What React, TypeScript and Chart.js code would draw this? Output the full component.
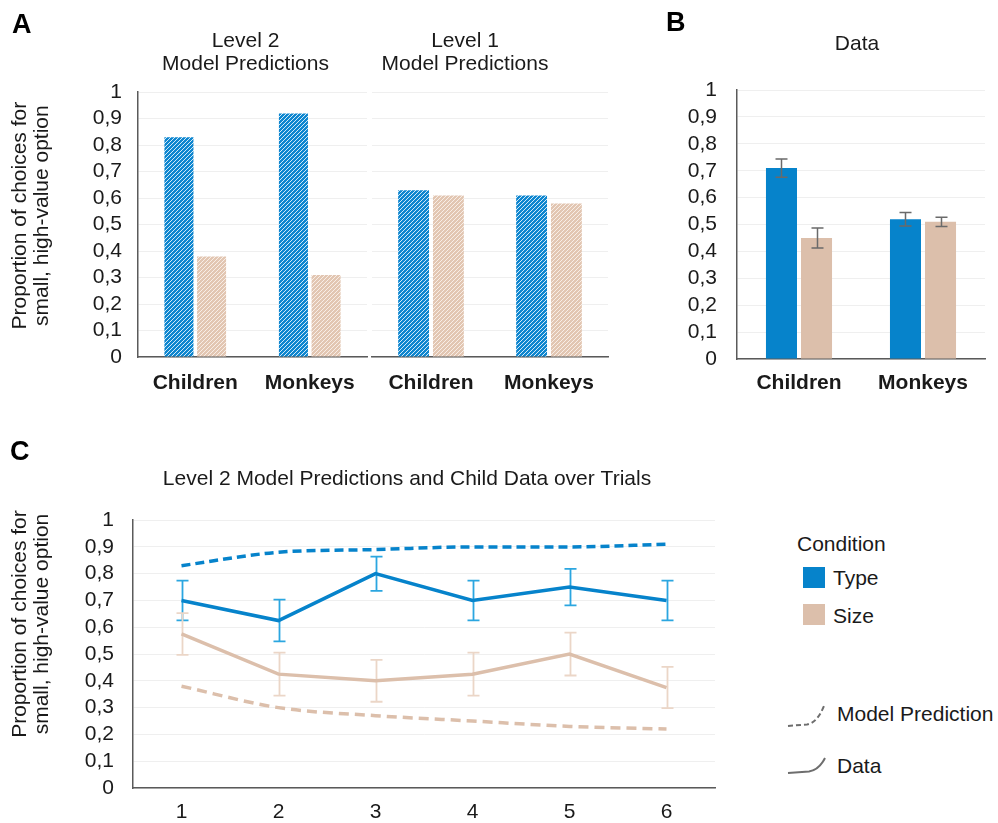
import React, { useEffect, useRef } from 'react';
import { Chart, registerables } from 'chart.js';

Chart.register(...registerables);

const FONT = "'Liberation Sans', Arial, Helvetica, sans-serif";
const TEXT = '#1a1a1a';
const AXIS = '#5a5a5a';
const GRID = '#efefef';
const BLUE = '#0683cb';
const TAN = '#dcbfab';
const BLUE_ERR = '#2ba6e0';
const TAN_ERR = '#ebd6c7';
const GRAY_ERR = '#6a6a6a';

// ---------- data ----------
const groups = ['Children', 'Monkeys'];
const yTickLabels = ['0', '0,1', '0,2', '0,3', '0,4', '0,5', '0,6', '0,7', '0,8', '0,9', '1'];
const conditionLabels = ['Type', 'Size'];
const lineStyleLabels = ['Model Prediction', 'Data'];

const level2Type = [0.83, 0.92];
const level2Size = [0.38, 0.31];
const level1Type = [0.63, 0.61];
const level1Size = [0.61, 0.58];

const dataType = [0.71, 0.52];
const dataSize = [0.45, 0.51];
const dataTypeErr = [0.034, 0.025];
const dataSizeErr = [0.037, 0.017];

const trials = ['1', '2', '3', '4', '5', '6'];
const trialTypeData = [0.70, 0.625, 0.80, 0.70, 0.75, 0.70];
const trialTypeErr = [0.074, 0.078, 0.064, 0.074, 0.068, 0.074];
const trialSizeData = [0.575, 0.425, 0.40, 0.425, 0.50, 0.375];
const trialSizeErr = [0.078, 0.08, 0.078, 0.08, 0.08, 0.077];
const trialTypeModel = [0.83, 0.88, 0.89, 0.90, 0.90, 0.91];
const trialSizeModel = [0.38, 0.30, 0.27, 0.25, 0.23, 0.22];

const titleLevel2 = ['Level 2', 'Model Predictions'];
const titleLevel1 = ['Level 1', 'Model Predictions'];
const titleData = 'Data';
const titleTrials = 'Level 2 Model Predictions and Child Data over Trials';
const yTitle = ['Proportion of choices for', 'small, high-value option'];

// ---------- helpers ----------
function drawErrors(chart: any, layer: string) {
  const ctx = chart.ctx;
  chart.data.datasets.forEach((ds: any, i: number) => {
    if (!ds.errors || (ds.errorLayer || 'over') !== layer) return;
    const meta = chart.getDatasetMeta(i);
    const ys = chart.scales[meta.yAxisID];
    ctx.save();
    ctx.strokeStyle = ds.errorColor;
    ctx.lineWidth = ds.errorWidth || 1.5;
    const cap = ds.errorCap || 6;
    meta.data.forEach((el: any, j: number) => {
      const v = ds.data[j];
      const e = ds.errors[j];
      const x = Math.round(el.x) + 0.5;
      const yt = ys.getPixelForValue(v + e);
      const yb = ys.getPixelForValue(v - e);
      ctx.beginPath();
      ctx.moveTo(x, yt);
      ctx.lineTo(x, yb);
      ctx.moveTo(x - cap, yt);
      ctx.lineTo(x + cap, yt);
      ctx.moveTo(x - cap, yb);
      ctx.lineTo(x + cap, yb);
      ctx.stroke();
    });
    ctx.restore();
  });
}

const errorBarsPlugin = {
  id: 'errorBars',
  beforeDatasetsDraw(chart: any) {
    drawErrors(chart, 'under');
  },
  afterDatasetsDraw(chart: any) {
    drawErrors(chart, 'over');
  },
};

// nudges the built-in chart title / y-axis title to match the reference placement
const textShiftPlugin = {
  id: 'textShift',
  afterLayout(chart: any, _args: any, opts: any) {
    const y = chart.scales.y;
    if (y && !y.__shifted && opts && opts.yTitleDy) {
      const orig = y.drawTitle.bind(y);
      y.drawTitle = () => {
        const c = chart.ctx;
        c.save();
        c.translate(0, opts.yTitleDy);
        orig();
        c.restore();
      };
      y.__shifted = true;
    }
    const t = chart.titleBlock;
    if (t && !t.__shifted && opts && opts.titleDx) {
      const orig2 = t.draw.bind(t);
      t.draw = (...a: any[]) => {
        const c = chart.ctx;
        c.save();
        c.translate(opts.titleDx, 0);
        orig2(...a);
        c.restore();
      };
      t.__shifted = true;
    }
  },
};

function hatch(base: string, stripe: string) {
  const c = document.createElement('canvas');
  c.width = 4;
  c.height = 4;
  const g = c.getContext('2d')!;
  g.fillStyle = base;
  g.fillRect(0, 0, 4, 4);
  g.fillStyle = stripe;
  for (let x = 0; x < 4; x++) {
    const y = (3 - x + 4) % 4;
    g.fillRect(x, y, 1, 1);
  }
  return g.createPattern(c, 'repeat') as CanvasPattern;
}

function yScaleOpts(width: number, showAxis: boolean, withTitle: boolean, tickPad: number) {
  return {
    min: 0,
    max: 1,
    ticks: {
      display: showAxis,
      stepSize: 0.1,
      autoSkip: false,
      padding: tickPad,
      color: TEXT,
      font: { family: FONT, size: 21 },
      callback: (v: number) => yTickLabels[Math.round(v * 10)],
    },
    grid: { color: GRID, lineWidth: 1, drawTicks: false },
    border: { display: showAxis, color: AXIS, width: 1.5 },
    title: {
      display: withTitle,
      text: yTitle,
      color: TEXT,
      font: { family: FONT, size: 21, lineHeight: 1.05 },
      padding: { top: 9, bottom: 0 },
    },
    afterFit: (s: any) => {
      s.width = width;
    },
  };
}

function xScaleOpts(height: number, bold: boolean, pad: number, offset = true) {
  return {
    offset,
    grid: { display: false, drawTicks: false },
    border: { display: true, color: AXIS, width: 1.5 },
    ticks: {
      color: TEXT,
      padding: pad,
      autoSkip: false,
      font: { family: FONT, size: 21, weight: bold ? 'bold' : 'normal' },
    },
    afterFit: (s: any) => {
      s.height = height;
    },
  };
}

function titleOpts(text: any, fullSize: boolean, top: number, bottom: number) {
  return {
    display: true,
    text,
    fullSize,
    color: TEXT,
    font: { family: FONT, size: 21, weight: 'normal', lineHeight: 1.1 },
    padding: { top, bottom },
  };
}

export default function App() {
  const aLeft = useRef<HTMLCanvasElement>(null);
  const aRight = useRef<HTMLCanvasElement>(null);
  const bRef = useRef<HTMLCanvasElement>(null);
  const cRef = useRef<HTMLCanvasElement>(null);

  useEffect(() => {
    const blueHatch = hatch('#0e86cf', '#cfe8f8');
    const tanHatch = hatch('#e2c6b2', '#f8eee7');
    const charts: Chart[] = [];

    const barSet = (label: string, data: number[], bg: any, extra: any = {}) => ({
      label,
      data,
      backgroundColor: bg,
      borderWidth: 0,
      categoryPercentage: 0.57,
      barPercentage: 0.89,
      ...extra,
    });

    charts.push(
      new Chart(aLeft.current!, {
        type: 'bar',
        data: {
          labels: groups,
          datasets: [
            barSet(conditionLabels[0], level2Type, blueHatch),
            barSet(conditionLabels[1], level2Size, tanHatch),
          ],
        },
        options: {
          responsive: false,
          animation: false,
          layout: { padding: { left: 0, right: 3, top: 0, bottom: 0 } },
          plugins: {
            legend: { display: false },
            tooltip: { enabled: false },
            title: titleOpts(titleLevel2, false, 10, 16),
            textShift: { yTitleDy: -9, titleDx: -7 },
          },
          scales: {
            x: xScaleOpts(43, true, 14),
            y: yScaleOpts(138, true, true, 16),
          },
        } as any,
        plugins: [textShiftPlugin],
      })
    );

    charts.push(
      new Chart(aRight.current!, {
        type: 'bar',
        data: {
          labels: groups,
          datasets: [
            barSet(conditionLabels[0], level1Type, blueHatch, { categoryPercentage: 0.59, barPercentage: 0.886 }),
            barSet(conditionLabels[1], level1Size, tanHatch, { categoryPercentage: 0.59, barPercentage: 0.886 }),
          ],
        },
        options: {
          responsive: false,
          animation: false,
          layout: { padding: { left: 0, right: 4, top: 0, bottom: 0 } },
          plugins: {
            legend: { display: false },
            tooltip: { enabled: false },
            title: titleOpts(titleLevel1, true, 10, 16),
          },
          scales: {
            x: xScaleOpts(43, true, 14),
            y: yScaleOpts(50, false, false, 16),
          },
        } as any,
      })
    );

    charts.push(
      new Chart(bRef.current!, {
        type: 'bar',
        data: {
          labels: groups,
          datasets: [
            barSet(conditionLabels[0], dataType, BLUE, {
              categoryPercentage: 0.565,
              barPercentage: 0.886,
              errors: dataTypeErr,
              errorColor: GRAY_ERR,
              errorWidth: 1.5,
              errorCap: 6,
            }),
            barSet(conditionLabels[1], dataSize, TAN, {
              categoryPercentage: 0.565,
              barPercentage: 0.886,
              errors: dataSizeErr,
              errorColor: GRAY_ERR,
              errorWidth: 1.5,
              errorCap: 6,
            }),
          ],
        },
        options: {
          responsive: false,
          animation: false,
          layout: { padding: { left: 0, right: 13, top: 0, bottom: 0 } },
          plugins: {
            legend: { display: false },
            tooltip: { enabled: false },
            title: titleOpts(titleData, false, 33, 34),
            textShift: { titleDx: -4 },
          },
          scales: {
            x: xScaleOpts(41, true, 12),
            y: yScaleOpts(97, true, false, 20),
          },
        } as any,
        plugins: [errorBarsPlugin, textShiftPlugin],
      })
    );

    charts.push(
      new Chart(cRef.current!, {
        type: 'line',
        data: {
          labels: trials,
          datasets: [
            {
              label: 'Type model',
              data: trialTypeModel,
              borderColor: BLUE,
              borderWidth: 3.5,
              borderDash: [9, 5],
              tension: 0.35,
              cubicInterpolationMode: 'monotone',
              pointRadius: 0,
              fill: false,
            },
            {
              label: 'Size model',
              data: trialSizeModel,
              borderColor: TAN,
              borderWidth: 3.5,
              borderDash: [10, 6],
              tension: 0.35,
              cubicInterpolationMode: 'monotone',
              pointRadius: 0,
              fill: false,
            },
            {
              label: 'Type data',
              data: trialTypeData,
              borderColor: BLUE,
              borderWidth: 3.5,
              tension: 0,
              pointRadius: 0,
              fill: false,
              errors: trialTypeErr,
              errorColor: BLUE_ERR,
              errorWidth: 1.8,
              errorCap: 6,
              errorLayer: 'under',
            },
            {
              label: 'Size data',
              data: trialSizeData,
              borderColor: TAN,
              borderWidth: 3.5,
              tension: 0,
              pointRadius: 0,
              fill: false,
              errors: trialSizeErr,
              errorColor: TAN_ERR,
              errorWidth: 1.8,
              errorCap: 6,
              errorLayer: 'under',
            },
          ],
        },
        options: {
          responsive: false,
          animation: false,
          layout: { padding: { left: 0, right: 45, top: 0, bottom: 0 } },
          plugins: {
            legend: { display: false },
            tooltip: { enabled: false },
            title: titleOpts(titleTrials, false, 38, 29),
            textShift: { yTitleDy: -30, titleDx: -17 },
          },
          scales: {
            x: xScaleOpts(35, false, 12),
            y: yScaleOpts(133, true, true, 19),
          },
        } as any,
        plugins: [errorBarsPlugin, textShiftPlugin],
      })
    );

    return () => {
      charts.forEach((c) => c.destroy());
    };
  }, []);

  const abs = (left: number, top: number, extra: any = {}) => ({
    position: 'absolute' as const,
    left,
    top,
    ...extra,
  });
  const txt = { fontFamily: FONT, fontSize: 21, lineHeight: 1, color: TEXT, whiteSpace: 'nowrap' as const };
  const letter = { fontFamily: FONT, fontSize: 27, fontWeight: 'bold' as const, lineHeight: 1, color: '#000' };

  return (
    <div style={{ position: 'absolute', left: 0, top: 0, width: 998, height: 823, background: '#fff', overflow: 'hidden' }}>
      <canvas ref={aLeft} width={370} height={380} style={abs(0, 20, { width: 370, height: 380 })} />
      <canvas ref={aRight} width={290} height={380} style={abs(322, 20, { width: 290, height: 380 })} />
      <canvas ref={bRef} width={358} height={400} style={abs(640, 0, { width: 358, height: 400 })} />
      <canvas ref={cRef} width={760} height={393} style={abs(0, 430, { width: 760, height: 393 })} />

      <div style={abs(12, 11, letter)}>A</div>
      <div style={abs(666, 9, letter)}>B</div>
      <div style={abs(10, 438, letter)}>C</div>

      <div style={abs(797, 533, txt)}>Condition</div>
      <div style={abs(803, 567, { width: 22, height: 21, background: BLUE })} />
      <div style={abs(833, 567, txt)}>{conditionLabels[0]}</div>
      <div style={abs(803, 604, { width: 22, height: 21, background: TAN })} />
      <div style={abs(833, 605, txt)}>{conditionLabels[1]}</div>

      <svg style={abs(787, 703)} width={40} height={26}>
        <path d="M1 23 L20 21.5 Q30 20 37 3" fill="none" stroke="#6e6e6e" strokeWidth={2} strokeDasharray="5 3" />
      </svg>
      <div style={abs(837, 703, txt)}>{lineStyleLabels[0]}</div>
      <svg style={abs(787, 756)} width={40} height={20}>
        <path d="M1 17 L22 15.5 Q32 14 38 2" fill="none" stroke="#6e6e6e" strokeWidth={2} />
      </svg>
      <div style={abs(837, 755, txt)}>{lineStyleLabels[1]}</div>
    </div>
  );
}
